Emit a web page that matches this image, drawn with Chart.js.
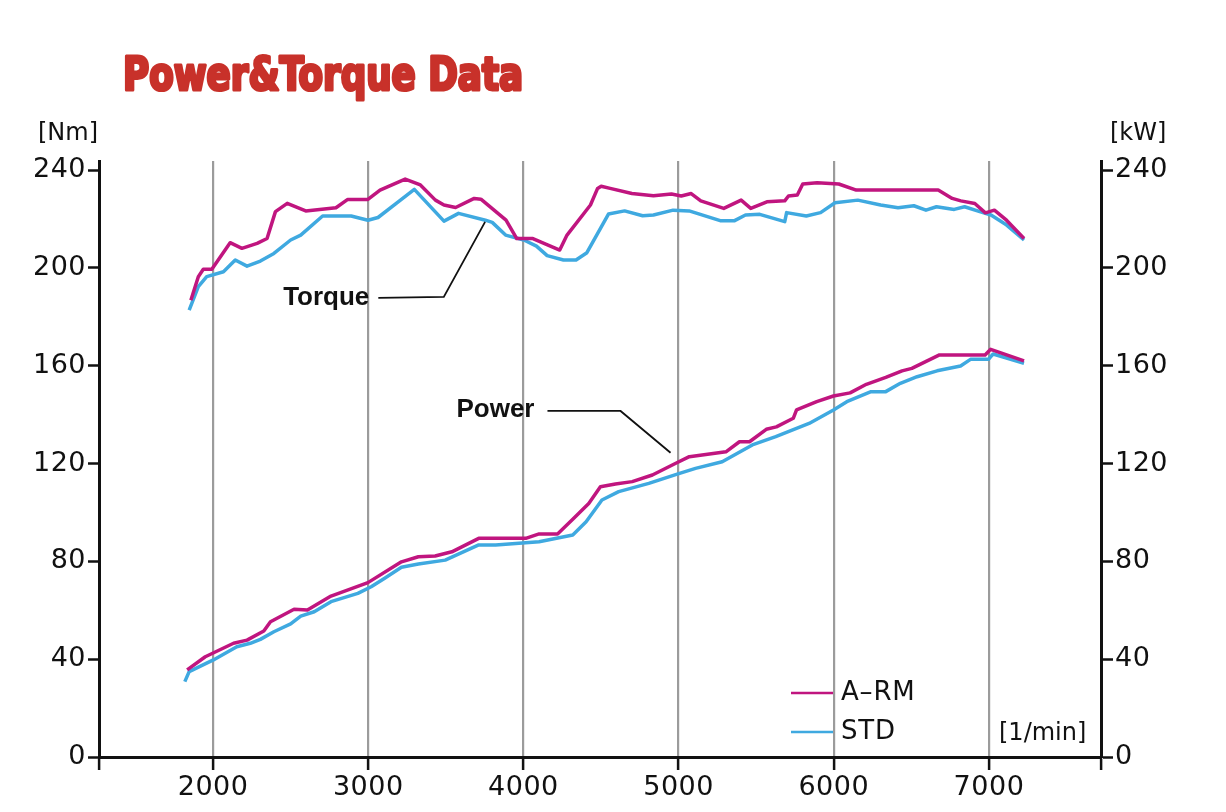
<!DOCTYPE html>
<html><head><meta charset="utf-8">
<script src="https://cdn.jsdelivr.net/npm/chart.js@4.4.1/dist/chart.umd.min.js"></script>
<style>html,body{margin:0;padding:0;background:#fff;}#wrap{position:relative;width:1226px;height:812px;}</style>
</head><body><div id="wrap"><canvas id="c"></canvas></div>
<script>
// ---- data ----
const seriesNames = ['A\u2013RM', 'STD'];
const xTickValues = [2000, 3000, 4000, 5000, 6000, 7000];
const yTickValues = [0, 40, 80, 120, 160, 200, 240];

const armTorqueRpm = [1857,1905,1937,1992,2110,2186,2284,2348,2402,2478,2597,2792,2868,2998,3076,3238,3336,3433,3488,3563,3683,3726,3888,3957,4061,4234,4281,4432,4478,4501,4559,4699,4838,4954,5017,5081,5143,5291,5403,5465,5569,5684,5708,5765,5800,5893,6032,6145,6673,6763,6819,6909,6977,7035,7113,7226];
const armTorqueNm  = [186.8,196.4,199.4,199.4,210.3,208,210,212,223,226.4,223.3,224.6,228,228,231.8,236.3,233.9,227.7,225.7,224.7,228.4,228.1,219.5,212,212,207.3,213.4,225.7,232.5,233.4,232.5,230.4,229.5,230.2,229.4,230.4,227.4,224.3,227.7,224.3,227,227.4,229.4,229.8,234.3,234.8,234.3,231.8,231.8,228.4,227.4,226.3,222.5,223.6,219.5,212];

const stdTorqueRpm = [1846,1905,1959,2067,2143,2219,2305,2392,2500,2565,2706,2890,2998,3063,3193,3297,3488,3582,3755,3799,3885,4003,4084,4153,4258,4339,4409,4548,4652,4768,4838,4965,5068,5268,5361,5431,5523,5684,5696,5823,5915,6008,6155,6302,6414,6516,6594,6662,6776,6843,6946,7013,7114,7226];
const stdTorqueNm  = [182.7,192.3,196.4,198.4,203.2,200.7,202.8,205.9,211.4,213.4,221.2,221.2,219.5,220.6,227,232.1,219.1,222.3,219.5,218.6,213.4,211.4,208.9,205,203.2,203.2,206.2,222,223.3,221.3,221.6,223.6,223.3,219.3,219.3,221.6,221.9,218.9,222.6,221.2,222.6,226.6,227.7,225.7,224.6,225.4,223.6,225,223.9,225,222.9,221.6,217.5,211.4];

const armPowerRpm = [1833,1950,2132,2219,2327,2370,2522,2608,2760,2998,3214,3323,3431,3539,3712,4015,4101,4220,4318,4421,4496,4593,4701,4831,4982,5069,5305,5392,5457,5565,5630,5739,5760,5890,5998,6105,6210,6335,6440,6503,6681,6975,7011,7226];
const armPowerKw  = [35.6,41,46.5,47.8,51.5,55.3,60.4,60.1,65.8,71.3,79.8,81.9,82.2,83.9,89.4,89.4,91.2,91.2,97.2,103.7,110.5,111.6,112.6,115.3,120.1,122.8,124.8,128.9,128.9,134,135,138.5,141.9,145.3,147.6,148.9,152.4,155.2,157.9,158.9,164.4,164.4,166.7,162];

const stdPowerRpm = [1818,1846,2002,2153,2240,2305,2392,2500,2565,2652,2760,2933,3019,3106,3214,3323,3496,3712,3821,4101,4318,4404,4506,4614,4808,5001,5109,5281,5475,5626,5841,5998,6084,6236,6332,6429,6537,6666,6817,6881,6997,7027,7226];
const stdPowerKw  = [30.8,34.9,39.7,45.1,46.5,48.1,51.2,54.4,57.6,59.4,63.5,66.9,69.6,73.1,77.6,78.9,80.5,86.7,86.7,88,90.8,96.2,105.1,108.5,111.9,115.9,118,120.7,127.6,131,136.4,141.9,145.3,149.3,149.3,152.8,155.5,157.9,159.9,162.6,162.6,164.8,161];

// annotation leader anchors (rpm, value)
const torqueLeader = [[3065,187.7],[3487,188.1],[3753,218.8]];
const powerLeader  = [[4155,141.5],[4626,141.5],[4948,124.4]];

// ---- styling ----
const MAGENTA = '#c0157f';
const BLUE = '#3fa9e0';
const X_MIN = 1265, X_MAX = 7722, Y_MAX = 243.7;
const TICK_FONT = {family: '"DejaVu Sans", sans-serif', size: 27};

const pts = (xs, ys) => xs.map((v, i) => ({x: v, y: ys[i]}));
const lineDs = (label, data, color, axis) => ({label, data, borderColor: color, backgroundColor: color,
  borderWidth: 3.5, pointRadius: 0, tension: 0, fill: false, yAxisID: axis, borderJoinStyle: 'round'});

const spacing = {
  id: 'spacing',
  beforeDraw(chart) { chart.ctx.letterSpacing = '0.5px'; }
};

const overlay = {
  id: 'overlay',
  afterDraw(chart) {
    const ctx = chart.ctx, xs = chart.scales.x, ys = chart.scales.y;
    const P = (p) => [xs.getPixelForValue(p[0]), ys.getPixelForValue(p[1])];
    ctx.save();
    ctx.letterSpacing = '0px';
    // title
    const title = 'Power&Torque Data';
    ctx.font = 'bold 47px "Liberation Sans Narrow", "DejaVu Sans Condensed", sans-serif';
    const w = ctx.measureText(title).width;
    ctx.save();
    ctx.translate(123, 90);
    ctx.scale(400 / w, 1);
    ctx.fillStyle = '#c8312a'; ctx.strokeStyle = '#c8312a'; ctx.lineWidth = 3.2; ctx.lineJoin = 'round';
    ctx.textBaseline = 'alphabetic'; ctx.textAlign = 'left';
    ctx.strokeText(title, 0, 0); ctx.fillText(title, 0, 0);
    ctx.restore();

    // units
    ctx.fillStyle = '#111';
    ctx.font = '24px "DejaVu Sans", sans-serif';
    ctx.textBaseline = 'middle'; ctx.textAlign = 'left';
    ctx.fillText('[Nm]', 38, 134);
    ctx.fillText('[kW]', 1110, 134);
    ctx.fillText('[1/min]', 999, 734);

    // leaders
    ctx.strokeStyle = '#111'; ctx.lineWidth = 1.8;
    [torqueLeader, powerLeader].forEach(L => {
      ctx.beginPath();
      L.forEach((p, i) => { const [a, b] = P(p); i ? ctx.lineTo(a, b) : ctx.moveTo(a, b); });
      ctx.stroke();
    });
    ctx.font = 'bold 26px "Liberation Sans", Arial, sans-serif';
    ctx.textAlign = 'right';
    let s = P(torqueLeader[0]); ctx.fillText('Torque', s[0] - 9, s[1]);
    s = P(powerLeader[0]); ctx.fillText('Power', s[0] - 13, s[1] - 1);

    // legend
    ctx.font = '26px "DejaVu Sans", sans-serif';
    ctx.letterSpacing = '0.8px';
    ctx.textAlign = 'left';
    [[seriesNames[0], MAGENTA, 693], [seriesNames[1], BLUE, 732]].forEach(([t, c, yy]) => {
      ctx.strokeStyle = c; ctx.lineWidth = 2.5;
      ctx.beginPath(); ctx.moveTo(791, yy); ctx.lineTo(833, yy); ctx.stroke();
      ctx.fillStyle = '#111'; ctx.fillText(t, 841, yy);
    });
    ctx.restore();
  }
};

new Chart(document.getElementById('c'), {
  type: 'line',
  data: {
    datasets: [
      lineDs(seriesNames[0] + ' torque', pts(armTorqueRpm, armTorqueNm), MAGENTA, 'y'),
      lineDs(seriesNames[0] + ' power', pts(armPowerRpm, armPowerKw), MAGENTA, 'y2'),
      lineDs(seriesNames[1] + ' torque', pts(stdTorqueRpm, stdTorqueNm), BLUE, 'y'),
      lineDs(seriesNames[1] + ' power', pts(stdPowerRpm, stdPowerKw), BLUE, 'y2'),
    ]
  },
  options: {
    responsive: true, maintainAspectRatio: false, animation: false,
    layout: {padding: {top: 161, left: 0, right: 0, bottom: 0}},
    plugins: {legend: {display: false}, tooltip: {enabled: false}, title: {display: false}},
    scales: {
      x: {
        type: 'linear', min: X_MIN, max: X_MAX,
        afterBuildTicks: s => { s.ticks = [X_MIN, ...xTickValues, X_MAX].map(v => ({value: v})); },
        afterFit: s => { s.height = 55; },
        ticks: {autoSkip: false, maxRotation: 0, minRotation: 0, font: TICK_FONT, color: '#111', padding: 2,
          callback: v => xTickValues.includes(v) ? String(v) : ''},
        grid: {color: c => (c.tick && xTickValues.includes(c.tick.value)) ? '#9b9b9b' : 'rgba(0,0,0,0)',
          lineWidth: 2.2, tickColor: '#111', tickWidth: 2.5, tickLength: 13, drawTicks: true},
        border: {color: '#111', width: 3}
      },
      y: {
        position: 'left', min: 0, max: Y_MAX,
        afterBuildTicks: s => { s.ticks = yTickValues.map(v => ({value: v})); },
        afterFit: s => { s.width = 99; },
        ticks: {font: TICK_FONT, color: '#111', padding: 2},
        grid: {drawOnChartArea: false, tickLength: 11, tickColor: '#111', tickWidth: 2.5},
        border: {color: '#111', width: 3}
      },
      y2: {
        position: 'right', min: 0, max: Y_MAX,
        afterBuildTicks: s => { s.ticks = yTickValues.map(v => ({value: v})); },
        afterFit: s => { s.width = 125; },
        ticks: {font: TICK_FONT, color: '#111', padding: 2},
        grid: {drawOnChartArea: false, tickLength: 12, tickColor: '#111', tickWidth: 2.5},
        border: {color: '#111', width: 3}
      }
    }
  },
  plugins: [spacing, overlay]
});
</script>
</body></html>
